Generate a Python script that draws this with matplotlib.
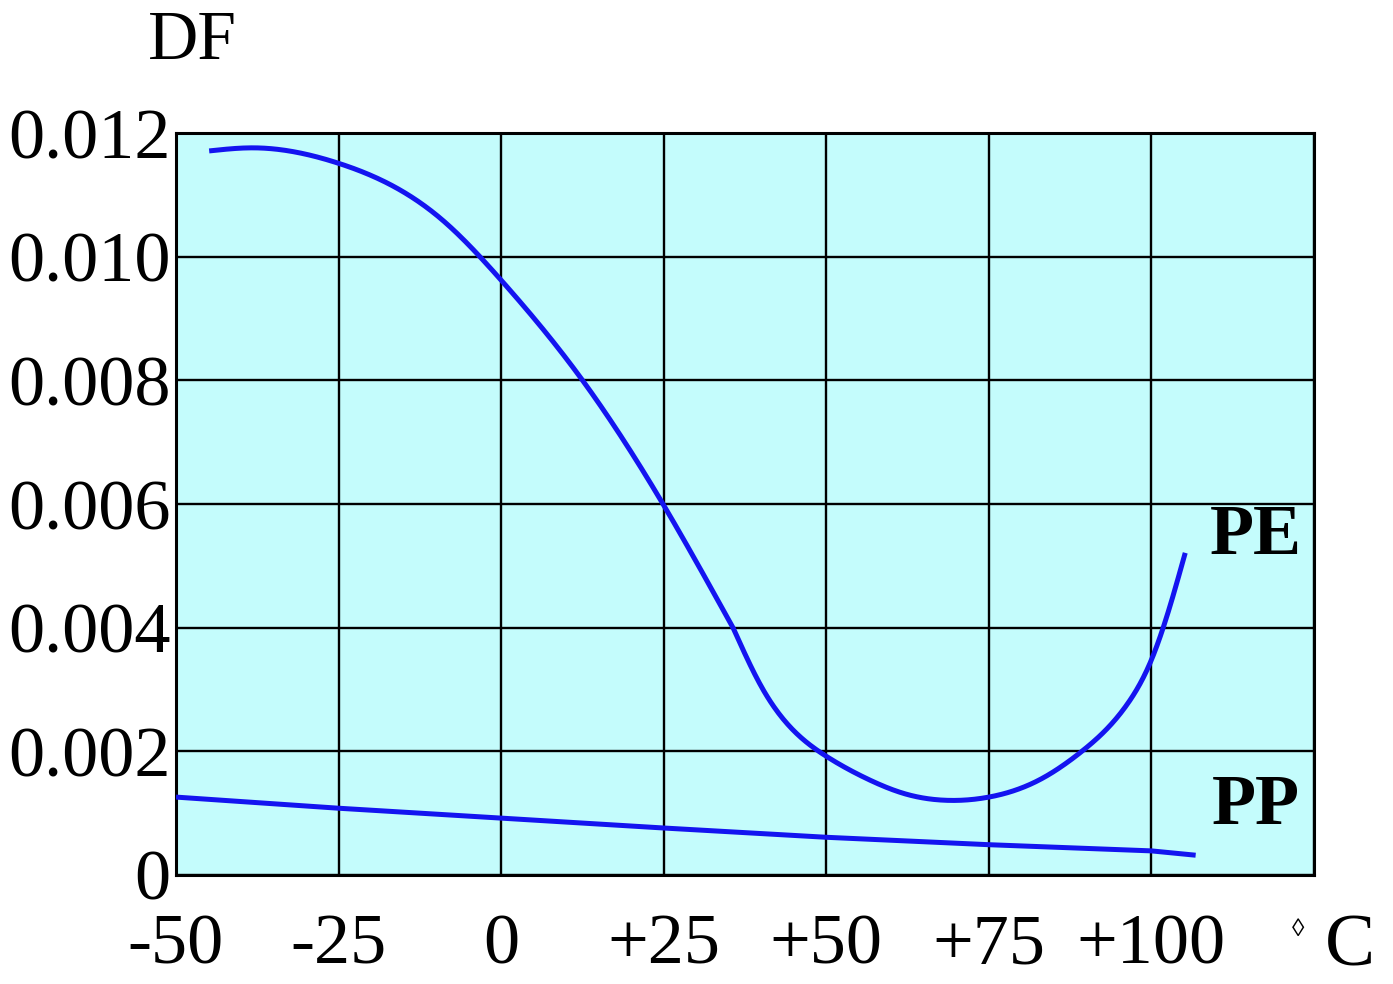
import matplotlib
matplotlib.use("Agg")
import matplotlib.pyplot as plt
import numpy as np

# Data (PE curve in two smooth pieces meeting at the bend near +36)
pe_temp_a = [-44.9, -38.2, -25, -9, 0, 12.1, 25, 35.7]
pe_df_a = [0.01171, 0.01176, 0.01151, 0.01059, 0.00962, 0.00806, 0.00598, 0.00399]
pe_temp_b = [35.7, 40, 50, 56.2, 62.2, 68, 75, 82.8, 89.3, 96.4, 100, 102.8, 105.2]
pe_df_b = [0.00399, 0.00305, 0.00192, 0.00156, 0.00131, 0.00121, 0.00126, 0.00154,
           0.00200, 0.00278, 0.00348, 0.00433, 0.00521]
pp_temp = [-50, -25, 0, 25, 50, 75, 100, 106.8]
pp_df = [0.00126, 0.00108, 0.00092, 0.00076, 0.00061, 0.00049, 0.00039, 0.00032]

x_ticks = [-50, -25, 0, 25, 50, 75, 100]
x_labels = ["-50", "-25", "0", "+25", "+50", "+75", "+100"]
y_ticks = [0, 0.002, 0.004, 0.006, 0.008, 0.010, 0.012]
y_labels = ["0", "0.002", "0.004", "0.006", "0.008", "0.010", "0.012"]

serif = ["Liberation Serif", "DejaVu Serif"]
plt.rcParams["font.family"] = serif

fig = plt.figure(figsize=(13.93, 9.84), dpi=100)
ax = fig.add_axes([176/1393, 109/984, (1314-176)/1393, (875-133)/984])
ax.set_facecolor("#C4FCFC")

def natural_spline(x, y, n=400):
    x = np.asarray(x, float); y = np.asarray(y, float)
    N = len(x); h = np.diff(x)
    A = np.zeros((N, N)); r = np.zeros(N)
    A[0, 0] = 1; A[-1, -1] = 1
    for i in range(1, N - 1):
        A[i, i-1] = h[i-1]; A[i, i] = 2 * (h[i-1] + h[i]); A[i, i+1] = h[i]
        r[i] = 6 * ((y[i+1] - y[i]) / h[i] - (y[i] - y[i-1]) / h[i-1])
    M = np.linalg.solve(A, r)
    xn = np.linspace(x[0], x[-1], n); yn = np.empty_like(xn)
    for j, xv in enumerate(xn):
        k = min(max(np.searchsorted(x, xv) - 1, 0), N - 2)
        a = x[k+1] - xv; b = xv - x[k]
        yn[j] = (M[k] * a**3 + M[k+1] * b**3) / (6 * h[k]) + \
                (y[k] / h[k] - M[k] * h[k] / 6) * a + (y[k+1] / h[k] - M[k+1] * h[k] / 6) * b
    return xn, yn

xa, ya = natural_spline(pe_temp_a, pe_df_a)
xb, yb = natural_spline(pe_temp_b, pe_df_b)
ax.plot(np.concatenate([xa, xb[1:]]), np.concatenate([ya, yb[1:]]),
        color="#1414F0", lw=3.6, solid_capstyle="butt", zorder=3)
ax.plot(pp_temp, pp_df, color="#1414F0", lw=3.6, solid_capstyle="butt", zorder=3)

ax.set_xlim(-50, 125)
ax.set_ylim(0, 0.012)
ax.set_xticks(x_ticks)
ax.set_xticklabels(x_labels)
ax.set_yticks(y_ticks)
ax.set_yticklabels(y_labels)
ax.set_xticks([125], minor=True)
ax.grid(True, which="both", color="black", lw=1.7, zorder=1)
ax.set_axisbelow(True)
for s in ax.spines.values():
    s.set_linewidth(2.2)
ax.tick_params(which="both", length=0, labelsize=52)
ax.tick_params(axis="x", pad=28)
ax.tick_params(axis="y", pad=4)

fig.text(192/1393, 1 - 42/984, "DF", fontsize=50, ha="center", va="center")
fig.text(1298/1393, 1 - 930/984, "\u25CA", fontsize=18, ha="center", va="center")
fig.text(1350/1393, 1 - 948/984, "C", fontsize=54, ha="center", va="center")
fig.text(1256/1393, 1 - 537/984, "PE", fontsize=52, fontweight="bold", ha="center", va="center")
fig.text(1256/1393, 1 - 806/984, "PP", fontsize=52, fontweight="bold", ha="center", va="center")

fig.savefig("out.png", dpi=100)
